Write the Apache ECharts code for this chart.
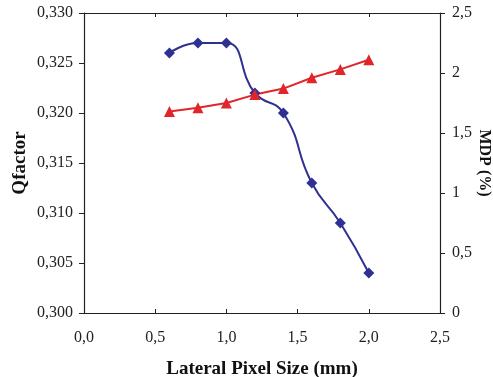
<!DOCTYPE html>
<html>
<head>
<meta charset="utf-8">
<script src="https://cdn.jsdelivr.net/npm/echarts@6/dist/echarts.min.js"></script>
<style>
  html, body { margin: 0; padding: 0; background: #fff; }
  #chart { width: 493px; height: 377px; }
</style>
</head>
<body>
<div id="chart"></div>
<script>
const pixelSize = [0.6, 0.8, 1.0, 1.2, 1.4, 1.6, 1.8, 2.0];
const qFactor = [0.326, 0.327, 0.327, 0.322, 0.320, 0.313, 0.309, 0.304];
const mdp = [1.68, 1.71, 1.75, 1.82, 1.87, 1.96, 2.03, 2.11];

const font = 'Liberation Serif';
const axisColor = '#222';
const comma = (v, d) => (d == null ? String(v) : v.toFixed(d)).replace('.', ',');

const chart = echarts.init(document.getElementById('chart'));

chart.setOption({
  animation: false,
  grid: { left: 84, right: 53, top: 13, bottom: 64, outerBoundsMode: 'none', containLabel: false },
  xAxis: [
    {
      type: 'value',
      min: 0, max: 2.5, interval: 0.5,
      name: 'Lateral Pixel Size (mm)',
      nameLocation: 'middle',
      nameGap: 47,
      nameMoveOverlap: false,
      nameTextStyle: { fontFamily: font, fontWeight: 'bold', fontSize: 19, color: '#111' },
      axisLine: { onZero: false, lineStyle: { color: axisColor, width: 1.2 } },
      axisTick: { inside: true, length: 4, lineStyle: { color: axisColor } },
      axisLabel: { fontFamily: font, fontSize: 16, color: '#222', margin: 17, formatter: v => comma(v, 1) },
      splitLine: { show: false }
    },
    {
      type: 'value',
      position: 'top',
      min: 0, max: 2.5, interval: 0.5,
      axisLine: { show: true, onZero: false, lineStyle: { color: axisColor, width: 1.2 } },
      axisTick: { inside: true, length: 4, lineStyle: { color: axisColor } },
      axisLabel: { show: false },
      splitLine: { show: false }
    }
  ],
  yAxis: [
    {
      type: 'value',
      min: 0.300, max: 0.330, interval: 0.005,
      name: 'Qfactor',
      nameLocation: 'middle',
      nameRotate: 90,
      nameGap: 54,
      nameMoveOverlap: false,
      nameTextStyle: { fontFamily: font, fontWeight: 'bold', fontSize: 19, color: '#111' },
      axisLine: { show: true, onZero: false, lineStyle: { color: axisColor, width: 1.2 } },
      axisTick: { show: true, length: 5, lineStyle: { color: axisColor } },
      axisLabel: { fontFamily: font, fontSize: 16, color: '#222', margin: 11, formatter: v => comma(v, 3) },
      splitLine: { show: false }
    },
    {
      type: 'value',
      position: 'right',
      min: 0, max: 2.5, interval: 0.5,
      name: 'MDP (%)',
      nameLocation: 'middle',
      nameRotate: -90,
      nameGap: 36,
      nameMoveOverlap: false,
      nameTextStyle: { fontFamily: font, fontWeight: 'bold', fontSize: 16, color: '#111' },
      axisLine: { show: true, onZero: false, lineStyle: { color: axisColor, width: 1.2 } },
      axisTick: { show: true, length: 5, lineStyle: { color: axisColor } },
      axisLabel: { fontFamily: font, fontSize: 16, color: '#222', margin: 12, formatter: v => comma(v) },
      splitLine: { show: false }
    }
  ],
  series: [
    {
      name: 'Qfactor',
      type: 'line',
      xAxisIndex: 0,
      yAxisIndex: 0,
      smooth: 0.5,
      data: pixelSize.map((x, i) => [x, qFactor[i]]),
      symbol: 'diamond',
      symbolSize: 11,
      itemStyle: { color: '#2E3192' },
      lineStyle: { color: '#2E3192', width: 2 }
    },
    {
      name: 'MDP',
      type: 'line',
      xAxisIndex: 0,
      yAxisIndex: 1,
      data: pixelSize.map((x, i) => [x, mdp[i]]),
      symbol: 'triangle',
      symbolSize: 11,
      itemStyle: { color: '#E1262B' },
      lineStyle: { color: '#E1262B', width: 2 }
    }
  ]
});
</script>
</body>
</html>
